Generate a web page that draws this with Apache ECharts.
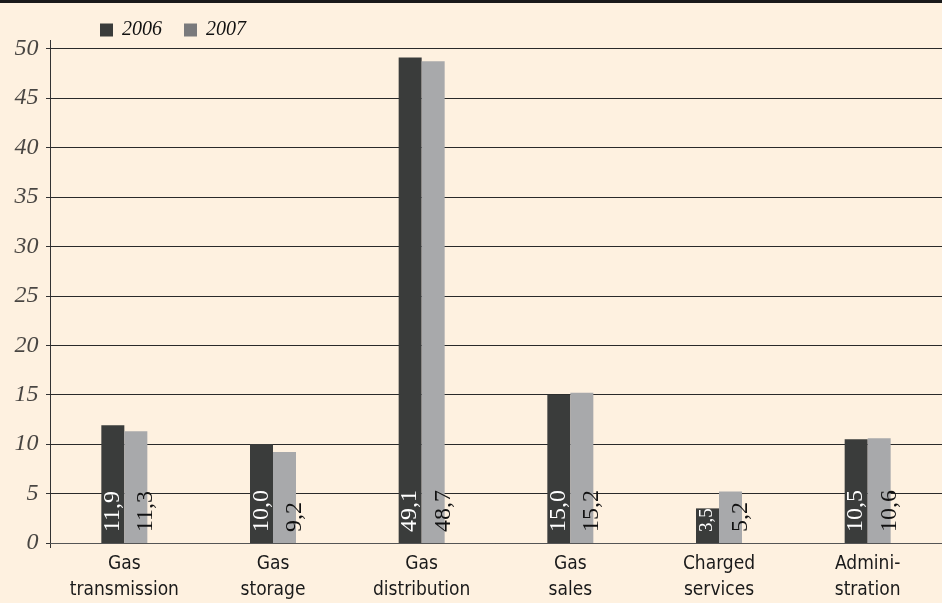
<!DOCTYPE html>
<html><head><meta charset="utf-8">
<script src="https://cdn.jsdelivr.net/npm/echarts@6/dist/echarts.min.js"></script>
<style>html,body{margin:0;padding:0;background:#fef1e0;}#c{width:942px;height:603px;}</style>
</head><body><div id="c"></div>
<script>
var categories = ['Gas\ntransmission', 'Gas\nstorage', 'Gas\ndistribution', 'Gas\nsales', 'Charged\nservices', 'Admini-\nstration'];
var seriesNames = ['2006', '2007'];
var values2006 = [11.9, 10.0, 49.1, 15.0, 3.5, 10.5];
var values2007 = [11.3, 9.2, 48.7, 15.2, 5.2, 10.6];
var yTicks = [0, 5, 10, 15, 20, 25, 30, 35, 40, 45, 50];

var chart = echarts.init(document.getElementById('c'), null, {renderer: 'canvas'});
function fmt(p){
  var s = p.value.toFixed(1).replace('.', ',');
  return p.value < 5 ? '{s|' + s + '}' : s;
}
var labelFont = '"Liberation Serif", "DejaVu Serif", serif';
chart.setOption({
  backgroundColor: '#fef1e0',
  animation: false,
  graphic: [
    {type: 'rect', left: 0, top: 0, shape: {width: 942, height: 3}, style: {fill: '#1a1a1a'}},
    {type: 'line', shape: {x1: 50.5, y1: 40, x2: 50.5, y2: 548}, style: {stroke: '#333', lineWidth: 1}}
  ],
  legend: {
    left: 95, top: 15,
    itemWidth: 13, itemHeight: 13, itemGap: 22,
    icon: 'rect',
    textStyle: {fontFamily: labelFont, fontStyle: 'italic', fontSize: 20, color: '#111', padding: [0, 0, 0, 4]},
    data: [
      {name: '2006', itemStyle: {color: '#3a3c3b'}},
      {name: '2007', itemStyle: {color: '#7a7a7c'}}
    ]
  },
  grid: {left: 50, right: 0, top: 48.5, bottom: 59.5, containLabel: false},
  xAxis: [{
    type: 'category',
    data: categories,
    axisLine: {show: true, lineStyle: {color: '#555', width: 1}},
    axisTick: {show: false},
    axisLabel: {
      interval: 0, margin: 8,
      fontFamily: '"Liberation Sans Narrow", "DejaVu Sans Condensed", "Liberation Sans", sans-serif',
      fontSize: 19, lineHeight: 26, color: '#1a1a1a'
    }
  }, {
    type: 'value', min: 0, max: 1, show: false
  }],
  yAxis: {
    type: 'value', min: 0, max: 50, interval: 5,
    axisLine: {show: false},
    axisTick: {show: true, length: 4, lineStyle: {color: '#333'}},
    splitLine: {show: true, lineStyle: {color: '#2a2a2a', width: 1}},
    axisLabel: {show: false}
  },
  series: [
    {
      name: seriesNames[0], type: 'bar', data: values2006,
      barWidth: 23, barGap: '0%',
      itemStyle: {color: '#3a3c3b'},
      label: {
        show: true, position: ['50%', '100%'], rotate: 90, padding: [0, 0, 0, 11],
        align: 'left', verticalAlign: 'middle', overflow: 'none',
        fontFamily: labelFont, fontSize: 24, color: '#ffffff', formatter: fmt,
        rich: {s: {fontFamily: labelFont, fontSize: 19, color: '#ffffff'}}
      },
      labelLayout: {hideOverlap: false}
    },
    {
      name: seriesNames[1], type: 'bar', data: values2007,
      barWidth: 23, barGap: '0%',
      itemStyle: {color: '#a8a9ab'},
      label: {
        show: true, position: ['95%', '100%'], rotate: 90, padding: [0, 0, 0, 11],
        align: 'left', verticalAlign: 'middle', overflow: 'none',
        fontFamily: labelFont, fontSize: 24, color: '#111111', formatter: fmt
      },
      labelLayout: {hideOverlap: false}
    },
    {
      name: 'yTickLabels', type: 'scatter', xAxisIndex: 1, silent: true, clip: false,
      symbolSize: 1, itemStyle: {color: 'rgba(0,0,0,0)'},
      data: yTicks.map(function(v){ return [0, v]; }),
      label: {
        show: true, position: 'left', distance: 11,
        formatter: function(p){ return String(p.value[1]); },
        fontFamily: labelFont, fontStyle: 'italic', fontSize: 24, color: '#1a1a1a'
      },
      labelLayout: {hideOverlap: false},
      z: 10
    }
  ]
});
</script></body></html>
